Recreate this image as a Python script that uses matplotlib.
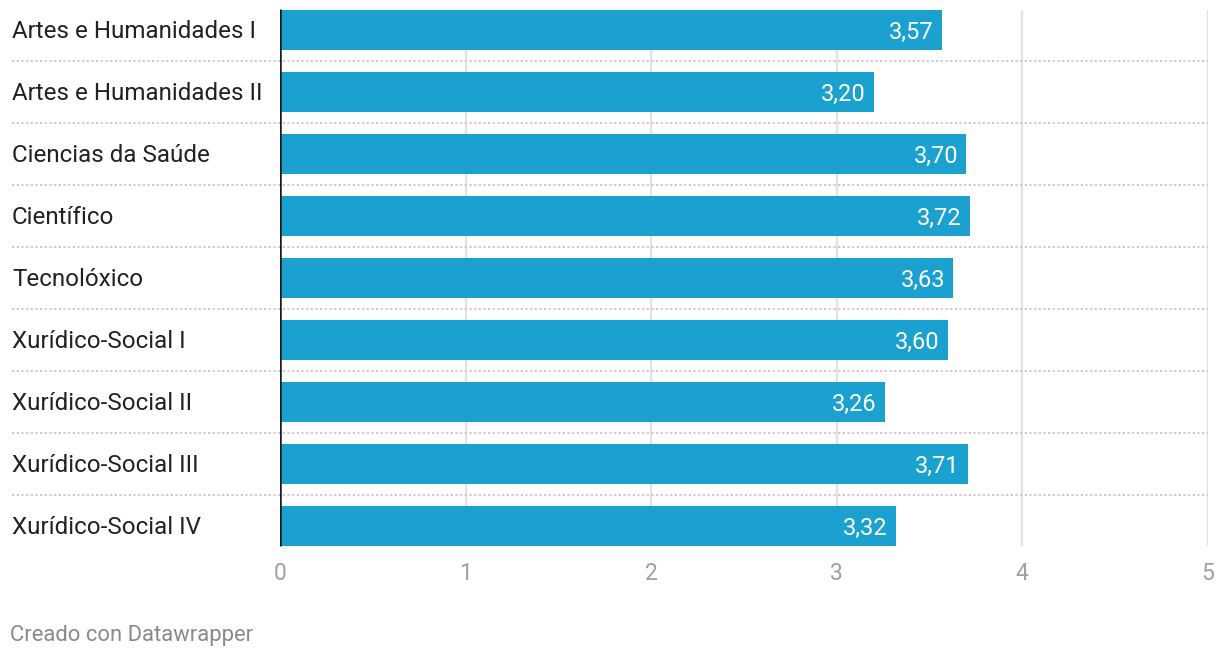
import matplotlib
matplotlib.use("Agg")
import matplotlib.pyplot as plt

categories = ["Artes e Humanidades I", "Artes e Humanidades II", "Ciencias da Saúde",
              "Científico", "Tecnolóxico", "Xurídico-Social I", "Xurídico-Social II",
              "Xurídico-Social III", "Xurídico-Social IV"]
values = [3.57, 3.20, 3.70, 3.72, 3.63, 3.60, 3.26, 3.71, 3.32]
xticks = [0, 1, 2, 3, 4, 5]

plt.rcParams['font.family'] = ['Roboto', 'DejaVu Sans']

W, H = 1220, 658
fig = plt.figure(figsize=(W / 100, H / 100), dpi=100)
x0, x1 = 280, 1207.5
y_top, y_bot = -1, 557
ax = fig.add_axes([x0 / W, 1 - y_bot / H, (x1 - x0) / W, (y_bot - y_top) / H])

n = len(categories)
h = 40 / 62
ypos = list(range(n))
ax.set_xlim(0, 5)
ax.set_ylim(n - 0.5, -0.5)
dy = 2 / 62

# gridlines
for t in xticks[1:]:
    ax.plot([t, t], [-h / 2, n - 1 + h / 2], color="#e2e2e2", lw=1.6, zorder=0, solid_capstyle="butt")

# separators
for i in range(n - 1):
    ax.axhline(i + 0.5, xmin=(12 - x0) / (x1 - x0), xmax=1, color="#cccccc", lw=1.4,
               linestyle=(0, (1.2, 1.2)), clip_on=False, zorder=1)

ax.barh(ypos, values, height=h, color="#1aa1cf", zorder=2)

ax.plot([0, 0], [-h / 2 - 0.01, n - 1 + h / 2], color="#1a1a1a", lw=1.8, zorder=3, solid_capstyle="butt")

label_x = (12 - x0) / (x1 - x0)
for y, v, c in zip(ypos, values, categories):
    ax.text(v - 0.045, y + dy, f"{v:.2f}".replace(".", ","), ha="right", va="center",
            color="white", fontsize=17, zorder=4)
    ax.text(label_x, y + dy, c, transform=ax.get_yaxis_transform(),
            ha="left", va="center", fontsize=17.4, color="#222222", clip_on=False)

for t in xticks:
    ax.text(t, n - 0.5 + 16 / 62, str(t), ha="center", va="center", fontsize=16.5, color="#a0a0a0")

for s in ax.spines.values():
    s.set_visible(False)
ax.set_xticks([])
ax.set_yticks([])

fig.text(10 / W, 1 - 635 / H, "Creado con Datawrapper", ha="left", va="center",
         fontsize=15.8, color="#8a8a8a")

fig.savefig("out.png", dpi=100, facecolor="white")
